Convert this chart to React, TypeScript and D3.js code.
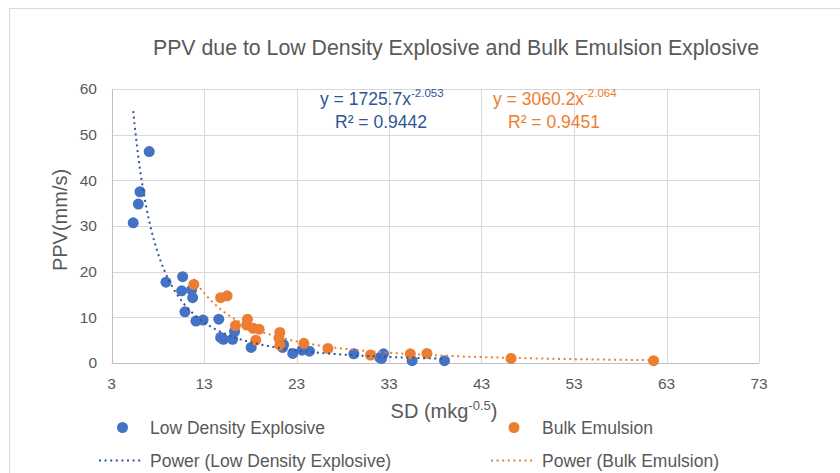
import React, { useRef, useEffect } from "react";
import * as d3 from "d3";

// scaled distance (mkg^-0.5) and PPV (mm/s)
const ldeSD = [5.35, 5.9, 6.08, 7.08, 8.89, 10.69, 10.58, 11.66, 11.77, 10.94, 12.13, 12.9, 14.6, 14.8, 15.1, 16.1, 16.3, 18.1, 21.5, 21.6, 22.6, 23.6, 24.4, 29.2, 32.0, 32.4, 32.2, 35.5, 39.0];
const ldePPV = [30.7, 34.8, 37.5, 46.3, 17.7, 18.9, 15.8, 16.0, 14.3, 11.2, 9.2, 9.4, 9.6, 5.6, 5.2, 5.2, 6.9, 3.4, 3.4, 4.0, 2.1, 2.8, 2.6, 2.0, 1.2, 2.0, 1.0, 0.5, 0.5];
const beSD = [11.9, 14.8, 15.5, 16.4, 17.7, 17.6, 18.3, 18.96, 18.6, 21.2, 21.1, 21.2, 23.8, 26.4, 31.0, 35.3, 37.1, 46.2, 61.6];
const bePPV = [17.2, 14.3, 14.7, 8.2, 9.6, 8.3, 7.6, 7.4, 5.0, 6.7, 5.4, 3.9, 4.3, 3.2, 1.75, 2.0, 2.1, 1.0, 0.5];

// power trendlines y = a * x^b
const ldeFit = { a: 1725.7, b: -2.053, r2: "0.9442" };
const beFit = { a: 3060.2, b: -2.064, r2: "0.9451" };

const xTicks = [3, 13, 23, 33, 43, 53, 63, 73];
const yTicks = [0, 10, 20, 30, 40, 50, 60];

const BLUE = "#4472C4";
const BLUE_DARK = "#2F5597";
const ORANGE = "#ED7D31";
const TEXT = "#595959";
const FONT = "'Liberation Sans', Arial, sans-serif";

const App = () => {
  const ref = useRef<SVGSVGElement>(null);

  useEffect(() => {
    if (!ref.current) return;
    const svg = d3.select(ref.current);
    svg.selectAll("*").remove();

    const x = d3.scaleLinear().domain([3, 73]).range([111.5, 759]);
    const y = d3.scaleLinear().domain([0, 60]).range([363, 89]);

    svg.append("rect").attr("width", 840).attr("height", 473).attr("fill", "#fff");
    svg
      .append("rect")
      .attr("x", 9.5)
      .attr("y", 8.5)
      .attr("width", 840)
      .attr("height", 480)
      .attr("fill", "none")
      .attr("stroke", "#D9D9D9");

    // gridlines
    const grid = svg.append("g").attr("stroke", "#D9D9D9").attr("stroke-width", 1);
    yTicks.slice(1).forEach((t) => {
      grid.append("line").attr("x1", x(3)).attr("x2", x(73)).attr("y1", Math.round(y(t)) + 0.5).attr("y2", Math.round(y(t)) + 0.5);
    });
    xTicks.slice(1).forEach((t) => {
      grid.append("line").attr("x1", Math.round(x(t)) + 0.5).attr("x2", Math.round(x(t)) + 0.5).attr("y1", y(0)).attr("y2", y(60));
    });
    const axisC = "#BFBFBF";
    svg.append("line").attr("x1", x(3)).attr("x2", x(73)).attr("y1", Math.round(y(0)) + 0.5).attr("y2", Math.round(y(0)) + 0.5).attr("stroke", axisC);
    svg.append("line").attr("x1", Math.round(x(3)) + 0.5).attr("x2", Math.round(x(3)) + 0.5).attr("y1", y(0)).attr("y2", y(60)).attr("stroke", axisC);

    // tick labels
    const tl = svg.append("g").attr("font-family", FONT).attr("font-size", 15.5).attr("fill", TEXT);
    yTicks.forEach((t) => {
      tl.append("text").attr("x", 97).attr("y", y(t)).attr("dy", "0.35em").attr("text-anchor", "end").text(t);
    });
    xTicks.forEach((t) => {
      tl.append("text").attr("x", x(t)).attr("y", 389).attr("text-anchor", "middle").text(t);
    });

    // title and axis titles
    svg.append("text").attr("x", 456).attr("y", 55).attr("text-anchor", "middle")
      .attr("font-family", FONT).attr("font-size", 21.3).attr("fill", TEXT)
      .text("PPV due to Low Density Explosive and Bulk Emulsion Explosive");
    svg.append("text").attr("transform", "translate(67,220) rotate(-90)").attr("text-anchor", "middle")
      .attr("font-family", FONT).attr("font-size", 20).attr("fill", TEXT).text("PPV(mm/s)");
    const xt = svg.append("text").attr("x", 444).attr("y", 418).attr("text-anchor", "middle")
      .attr("font-family", FONT).attr("font-size", 20).attr("fill", TEXT);
    xt.append("tspan").text("SD (mkg");
    xt.append("tspan").attr("dy", -8).attr("font-size", 13).text("-0.5");
    xt.append("tspan").attr("dy", 8).text(")");

    // points
    const pts = (xs: number[], ys: number[], c: string) => {
      svg.append("g").selectAll("circle").data(xs).join("circle")
        .attr("cx", (d) => x(d)).attr("cy", (_d, i) => y(ys[i])).attr("r", 5.5).attr("fill", c);
    };
    pts(ldeSD, ldePPV, BLUE);
    pts(beSD, bePPV, ORANGE);

    // trendlines
    const trend = (xs: number[], fit: { a: number; b: number }, c: string) => {
      const [lo, hi] = d3.extent(xs) as [number, number];
      const xsCurve = d3.range(lo, hi, 0.1).concat([hi]);
      const line = d3.line<number>().x((d) => x(d)).y((d) => y(fit.a * Math.pow(d, fit.b)));
      svg.append("path").datum(xsCurve).attr("d", line).attr("fill", "none").attr("stroke", c)
        .attr("stroke-width", 2).attr("stroke-dasharray", "2 3.6");
    };
    trend(ldeSD, ldeFit, BLUE_DARK);
    trend(beSD, beFit, ORANGE);

    // equations
    const eq = (x0: number, x1: number, fit: { a: number; b: number; r2: string }, c: string) => {
      const g = svg.append("g").attr("font-family", FONT).attr("font-size", 17.5).attr("fill", c);
      const t = g.append("text").attr("x", x0).attr("y", 105);
      t.append("tspan").text(`y = ${fit.a}x`);
      t.append("tspan").attr("dy", -8).attr("font-size", 11.5).text(`${fit.b}`);
      g.append("text").attr("x", x1).attr("y", 128).text(`R² = ${fit.r2}`);
    };
    eq(320, 335, ldeFit, BLUE_DARK);
    eq(493, 508, beFit, ORANGE);

    // legend
    const lg = svg.append("g").attr("font-family", FONT).attr("font-size", 17.5).attr("fill", TEXT);
    lg.append("circle").attr("cx", 122.5).attr("cy", 427.5).attr("r", 5.5).attr("fill", BLUE);
    lg.append("text").attr("x", 150).attr("y", 434).text("Low Density Explosive");
    lg.append("circle").attr("cx", 514).attr("cy", 427.5).attr("r", 5.5).attr("fill", ORANGE);
    lg.append("text").attr("x", 542).attr("y", 434).text("Bulk Emulsion");
    lg.append("line").attr("x1", 99).attr("x2", 143).attr("y1", 460.5).attr("y2", 460.5)
      .attr("stroke", BLUE_DARK).attr("stroke-width", 2).attr("stroke-dasharray", "2 3.6");
    lg.append("text").attr("x", 150).attr("y", 467).text("Power (Low Density Explosive)");
    lg.append("line").attr("x1", 491).attr("x2", 534).attr("y1", 460.5).attr("y2", 460.5)
      .attr("stroke", ORANGE).attr("stroke-width", 2).attr("stroke-dasharray", "2 3.6");
    lg.append("text").attr("x", 542).attr("y", 467).text("Power (Bulk Emulsion)");
  }, []);

  return (
    <svg
      ref={ref}
      width={840}
      height={473}
      style={{ position: "absolute", left: 0, top: 0, display: "block" }}
    />
  );
};

export default App;
